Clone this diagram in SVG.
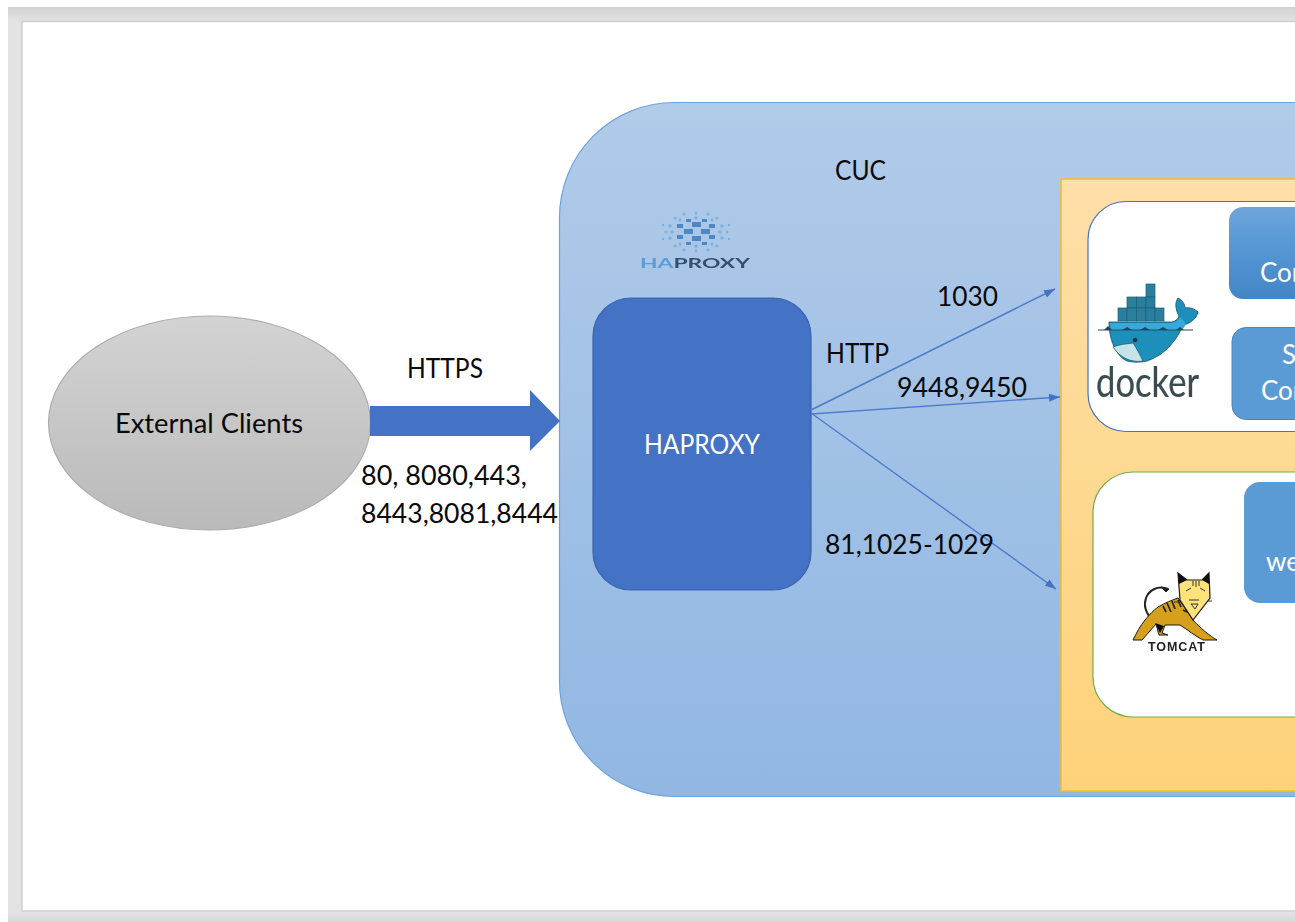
<svg xmlns="http://www.w3.org/2000/svg" width="1295" height="922" viewBox="0 0 1295 922">
<defs>
<linearGradient id="gTop" x1="0" y1="0" x2="0" y2="1"><stop offset="0" stop-color="#d2d2d2"/><stop offset="1" stop-color="#e2e2e2"/></linearGradient>
<linearGradient id="gBot" x1="0" y1="0" x2="0" y2="1"><stop offset="0" stop-color="#e4e4e4"/><stop offset="1" stop-color="#d9d9d9"/></linearGradient>
<linearGradient id="gEll" x1="0" y1="0" x2="0" y2="1"><stop offset="0" stop-color="#d3d3d3"/><stop offset="1" stop-color="#bababa"/></linearGradient>
<linearGradient id="gCuc" x1="0" y1="0" x2="0" y2="1"><stop offset="0" stop-color="#b1cbe9"/><stop offset="1" stop-color="#91b7e3"/></linearGradient>
<linearGradient id="gOr" x1="0" y1="0" x2="0" y2="1"><stop offset="0" stop-color="#fedfa8"/><stop offset="1" stop-color="#fed27a"/></linearGradient>
<linearGradient id="gBox" x1="0" y1="0" x2="0" y2="1"><stop offset="0" stop-color="#6fa6da"/><stop offset="0.3" stop-color="#5b9bd8"/><stop offset="1" stop-color="#4286c6"/></linearGradient>
<marker id="ah" markerUnits="userSpaceOnUse" markerWidth="12" markerHeight="10" refX="11" refY="4" orient="auto"><path d="M0 0L11 4L0 8z" fill="#4472c4"/></marker>
<filter id="soft" x="-5%" y="-5%" width="110%" height="110%"><feGaussianBlur stdDeviation="0.5"/></filter>
<style>
text{font-family:Lato,"Liberation Sans",sans-serif;font-size:26px;fill:#0a0a0a}
.w{fill:#fff}
.conn{fill:none;stroke:#4d7bcb;stroke-width:1.4;marker-end:url(#ah)}
.c{fill:#2a7f9d;stroke:#1d5f78;stroke-width:.7}
</style>
</defs>
<rect id="page" x="8" y="7" width="1287" height="915" fill="#e3e3e3"/>
<rect x="8" y="7" width="1287" height="14" fill="url(#gTop)"/>
<rect x="8" y="911" width="1287" height="11" fill="url(#gBot)"/>
<rect x="22" y="21.500" width="1280" height="889.500" fill="#fff" stroke="#d0d0d0" stroke-width="1.500"/>

<g id="cuc">
<rect x="559.500" y="102.500" width="900" height="694" rx="115" fill="url(#gCuc)" stroke="#6fa3dc" stroke-width="1.200"/>
<text x="835" y="180" textLength="51" lengthAdjust="spacingAndGlyphs">CUC</text>
</g>

<g id="haproxy-logo" filter="url(#soft)">
<g fill="#4f86c6">
<rect x="692" y="222" width="9" height="5"/><rect x="684" y="229" width="9" height="5"/><rect x="701" y="229" width="9" height="5"/><rect x="692" y="236" width="9" height="5"/>
<rect x="677" y="224" width="6" height="4"/><rect x="709" y="224" width="6" height="4"/><rect x="677" y="235" width="6" height="4"/><rect x="709" y="235" width="6" height="4"/>
<rect x="686" y="219" width="5" height="3"/><rect x="702" y="219" width="5" height="3"/><rect x="686" y="242" width="5" height="3"/><rect x="702" y="242" width="5" height="3"/>
</g>
<g fill="#7eb0de">
<circle cx="696" cy="213" r="1.500"/><circle cx="696" cy="218" r="1.800"/><circle cx="696" cy="246" r="1.800"/><circle cx="696" cy="251" r="1.500"/>
<circle cx="684" cy="214" r="1.500"/><circle cx="708" cy="214" r="1.500"/><circle cx="684" cy="250" r="1.500"/><circle cx="708" cy="250" r="1.500"/>
<circle cx="675" cy="218" r="1.500"/><circle cx="717" cy="218" r="1.500"/><circle cx="675" cy="246" r="1.500"/><circle cx="717" cy="246" r="1.500"/>
<circle cx="670" cy="226" r="1.800"/><circle cx="722" cy="226" r="1.800"/><circle cx="670" cy="238" r="1.800"/><circle cx="722" cy="238" r="1.800"/>
<circle cx="666" cy="232" r="1.500"/><circle cx="672" cy="232" r="1.800"/><circle cx="720" cy="232" r="1.800"/><circle cx="727" cy="232" r="1.500"/>
<circle cx="663" cy="225" r="1.200"/><circle cx="729" cy="225" r="1.200"/><circle cx="663" cy="239" r="1.200"/><circle cx="729" cy="239" r="1.200"/>
<circle cx="680" cy="244" r="1.500"/><circle cx="712" cy="244" r="1.500"/><circle cx="680" cy="220" r="1.500"/><circle cx="712" cy="220" r="1.500"/>
</g>
<text x="640" y="268" textLength="110" lengthAdjust="spacingAndGlyphs" style="font-size:13.500px;font-weight:700;fill:#33506e"><tspan style="fill:#5b9bd5">HA</tspan>PROXY</text>
</g>

<g id="external-clients">
<ellipse cx="209.500" cy="423" rx="161" ry="107" fill="url(#gEll)" stroke="#adadad" stroke-width="1.200"/>
<text x="115" y="433" textLength="188" lengthAdjust="spacingAndGlyphs">External Clients</text>
</g>

<g id="haproxy">
<rect x="593" y="298" width="218" height="292" rx="38" fill="#4472c4" stroke="#3a62ad" stroke-width="1.200"/>
<text class="w" x="644" y="454" textLength="116" lengthAdjust="spacingAndGlyphs">HAPROXY</text>
</g>

<g id="host">
<rect x="1061" y="179" width="300" height="612" fill="url(#gOr)" stroke="#f3bc2e" stroke-width="1.500"/>
</g>

<g id="docker-panel">
<rect x="1088" y="201.500" width="300" height="230" rx="38" fill="#fff" stroke="#4472c4" stroke-width="1.200"/>
<g filter="url(#soft)">
<rect class="c" x="1146" y="284" width="9" height="13"/>
<rect class="c" x="1127" y="297" width="9.500" height="11"/><rect class="c" x="1136.500" y="297" width="9.500" height="11"/><rect class="c" x="1146" y="297" width="9" height="11"/>
<rect class="c" x="1118" y="308" width="9" height="13"/><rect class="c" x="1127" y="308" width="9.500" height="13"/><rect class="c" x="1136.500" y="308" width="9.500" height="13"/><rect class="c" x="1146" y="308" width="9" height="13"/><rect class="c" x="1155" y="308" width="9" height="13"/>
<path d="M1109 322H1172C1176 321 1178 319 1179 316C1175 309 1175 302 1178 298C1182 300 1185 304 1185 308C1190 307 1195 309 1198 312C1197 318 1190 324 1183 325C1178 338 1166 355 1147 361C1138 363 1131 362 1127 361C1116 356 1109 340 1109 322Z" fill="#1f8fbb" stroke="#1a4f63" stroke-width=".8"/>
<path d="M1110 323H1172C1176 322 1179 320 1180 317L1186 324C1185 327 1183 329 1181 330H1111Z" fill="#36aad8"/>
<path d="M1113 347C1120 344 1127 344 1133 343C1137 349 1140 355 1143 361C1132 363 1120 358 1113 347Z" fill="#c4e4e8" stroke="#16506a" stroke-width=".7"/>
<path d="M1098 330H1193" stroke="#2b4a55" stroke-width="1.200" fill="none"/>
<path d="M1104 330l4-4 4 4zM1122 330l5-3 5 3zM1140 330l5-3 5 3zM1158 330l5-3 5 3zM1176 330l4-3 4 3z" fill="#1c4a5c"/>
<circle cx="1135" cy="340" r="2.300" fill="#234"/>
</g>
<text x="1096" y="397" textLength="103" lengthAdjust="spacingAndGlyphs" filter="url(#soft)" style="font-size:43px;fill:#3a4c52;stroke:#3a4c52;stroke-width:.2">docker</text>
</g>

<g id="tomcat-panel">
<rect x="1093" y="472" width="300" height="245" rx="40" fill="#fff" stroke="#70ad47" stroke-width="1.200"/>
<g filter="url(#soft)">
<path d="M1168 589C1158 585 1149 590 1146 598C1143 607 1147 613 1150 618" fill="none" stroke="#222" stroke-width="2"/>
<path d="M1161 587L1169 589L1166 592Z" fill="#222" stroke="#222"/>
<path d="M1133 640C1137 632 1140 626 1145 620C1150 614 1154 610 1158 607C1165 603 1172 600 1178 598L1193 620C1200 628 1210 636 1217 640L1203 640C1195 636 1188 630 1180 625L1165 625L1162 633L1168 635L1159 635L1156 624L1142 640Z" fill="#d6a01e" stroke="#1a1a1a" stroke-width="1"/>
<path d="M1155 623L1160 633L1164 626Z" fill="#111"/>
<path d="M1163 606l3 6M1167 603l4 9M1172 601l3 8M1178 600l3 7M1183 610l4 2" stroke="#222" stroke-width="1.700" fill="none"/>
<path d="M1178 573L1187 580H1202L1209 573L1210 598L1193 620L1180 600Z" fill="#ffe27a" stroke="#1a1a1a" stroke-width="1.200"/>
<path d="M1178 573L1187 580L1179 584ZM1209 573L1202 580L1209 584Z" fill="#111"/>
<path d="M1186 591l5-3M1200 588l5 3M1189 600h10M1191 604h7l-3 5zM1193 581v5M1196 581v6M1199 581v5M1178 602h-4M1208 601h4" stroke="#333" stroke-width="1" fill="none"/>
<text x="1148" y="651" textLength="57" lengthAdjust="spacing" style="font-size:12.500px;font-weight:700;font-family:'Liberation Sans',sans-serif;fill:#222">TOMCAT</text>
</g>
</g>

<g id="container-1"><rect x="1229" y="207" width="120" height="92" rx="14" fill="url(#gBox)"/><text class="w" x="1260" y="282">Con</text></g>
<g id="container-2"><rect x="1232" y="327.500" width="120" height="92" rx="14" fill="#5b9bd5" stroke="#4a86bc"/><text class="w" x="1282" y="364">S</text><text class="w" x="1261" y="400">Con</text></g>
<g id="web"><rect x="1244" y="482" width="120" height="121" rx="16" fill="#5b9bd5"/><text class="w" x="1266" y="571">we</text></g>

<g id="connectors">
<path class="conn" d="M811 410L1055 289"/>
<path class="conn" d="M811 414L1060 397"/>
<path class="conn" d="M811 413L1056 589"/>
<path d="M370 406H530V390L560 421L530 451V436H370Z" fill="#4472c4"/>
</g>

<g id="labels">
<text x="407" y="378" textLength="76" lengthAdjust="spacingAndGlyphs">HTTPS</text>
<text x="361" y="485" textLength="166" lengthAdjust="spacingAndGlyphs">80, 8080,443,</text>
<text x="361" y="523" textLength="197" lengthAdjust="spacingAndGlyphs">8443,8081,8444</text>
<text x="826" y="363" textLength="63" lengthAdjust="spacingAndGlyphs">HTTP</text>
<text x="937" y="306" textLength="61" lengthAdjust="spacingAndGlyphs">1030</text>
<text x="897" y="397" textLength="130" lengthAdjust="spacingAndGlyphs">9448,9450</text>
<text x="825" y="554" textLength="169" lengthAdjust="spacingAndGlyphs">81,1025-1029</text>
</g>
</svg>
